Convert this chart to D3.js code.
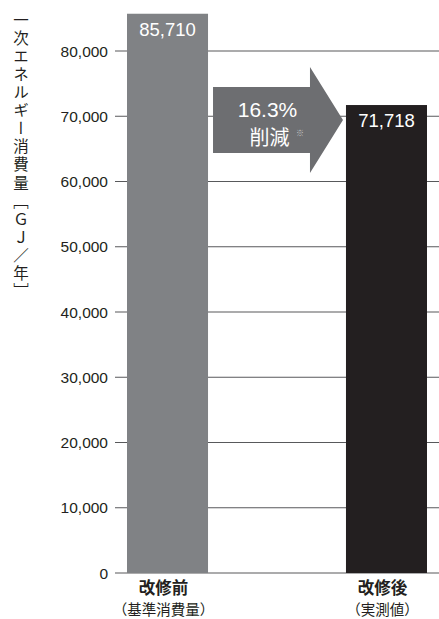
<!DOCTYPE html>
<html><head>
<meta charset="utf-8">
<script src="https://d3js.org/d3.v7.min.js"></script>
<style>
  body { margin: 0; background: #fff; }
  .num { font-family: "Liberation Sans", Arial, sans-serif; }
  .jp { font-family: "Noto Sans CJK JP", sans-serif; }
</style>
</head>
<body>
<svg id="chart" width="439" height="619"></svg>
<script>
  // data
  const categories = ["改修前", "改修後"];
  const subLabels = ["（基準消費量）", "（実測値）"];
  const values = [85710, 71718];
  const barColors = ["#808285", "#231f20"];
  const yTicks = [0, 10000, 20000, 30000, 40000, 50000, 60000, 70000, 80000];
  const reduction = "16.3%";
  const yTitle = "一次エネルギー消費量［ＧＪ／年］";

  const svg = d3.select("#chart");

  // scales
  const y = d3.scaleLinear().domain([0, 80000]).range([573, 51]);
  const x = d3.scaleBand().domain(categories).range([127, 427]).paddingInner(0.63).paddingOuter(0);

  const fmt = d3.format(",");

  // gridlines (behind bars)
  svg.append("g").selectAll("line").data(yTicks).join("line")
    .attr("x1", 115).attr("x2", 439)
    .attr("y1", d => y(d)).attr("y2", d => y(d))
    .attr("stroke", "#58595b").attr("stroke-width", 1.2);

  // tick labels
  svg.append("g").selectAll("text").data(yTicks).join("text")
    .attr("class", "num")
    .attr("x", 108).attr("y", d => y(d) + 5.5)
    .attr("text-anchor", "end")
    .attr("font-size", 15.5)
    .attr("fill", "#231f20")
    .text(d => fmt(d));

  // bars
  svg.append("g").selectAll("rect").data(values).join("rect")
    .attr("x", (d, i) => x(categories[i]))
    .attr("width", x.bandwidth())
    .attr("y", d => y(d))
    .attr("height", d => y(0) - y(d))
    .attr("fill", (d, i) => barColors[i]);

  // value labels
  svg.append("g").selectAll("text").data(values).join("text")
    .attr("class", "num")
    .attr("x", (d, i) => x(categories[i]) + x.bandwidth() / 2)
    .attr("y", d => y(d) + 22)
    .attr("text-anchor", "middle")
    .attr("font-size", 18.5)
    .attr("fill", "#fff")
    .text(d => fmt(d));

  // category labels
  const cat = svg.append("g");
  categories.forEach((c, i) => {
    const cx = x(c) + x.bandwidth() / 2 - 4;
    cat.append("text").attr("class", "jp")
      .attr("x", cx).attr("y", 594)
      .attr("text-anchor", "middle")
      .attr("font-size", 16.5).attr("font-weight", "bold")
      .attr("fill", "#231f20")
      .text(c);
    cat.append("text").attr("class", "jp")
      .attr("x", cx).attr("y", 615)
      .attr("text-anchor", "middle")
      .attr("font-size", 14.5)
      .attr("fill", "#231f20")
      .text(subLabels[i]);
  });

  // reduction arrow between the bars
  const ax0 = x(categories[0]) + x.bandwidth() + 5;
  const ax1 = x(categories[1]) - 3;
  const headX = ax1 - 33;
  const midY = 120, bodyH = 33, headH = 53;
  const arrowPts = [
    [ax0, midY - bodyH], [headX, midY - bodyH], [headX, midY - headH],
    [ax1, midY], [headX, midY + headH], [headX, midY + bodyH], [ax0, midY + bodyH]
  ];
  svg.append("path")
    .attr("d", d3.line()(arrowPts) + "Z")
    .attr("fill", "#6d6e71");

  const acx = (ax0 + headX) / 2 + 6;
  svg.append("text").attr("class", "num")
    .attr("x", acx).attr("y", 117)
    .attr("text-anchor", "middle")
    .attr("font-size", 21)
    .attr("fill", "#fff")
    .text(reduction);
  svg.append("text").attr("class", "jp")
    .attr("x", acx + 2).attr("y", 145)
    .attr("text-anchor", "middle")
    .attr("font-size", 20)
    .attr("fill", "#fff")
    .text("削減");
  svg.append("text").attr("class", "jp")
    .attr("x", 300).attr("y", 136)
    .attr("text-anchor", "middle")
    .attr("font-size", 8)
    .attr("fill", "#c8c8c8")
    .text("※");

  // vertical y-axis title
  svg.append("text").attr("class", "jp")
    .attr("x", 21).attr("y", 12)
    .attr("writing-mode", "vertical-rl")
    .style("text-orientation", "upright")
    .attr("font-size", 15.5)
    .attr("letter-spacing", 2.6)
    .attr("fill", "#231f20")
    .text(yTitle);
</script>
</body>
</html>
